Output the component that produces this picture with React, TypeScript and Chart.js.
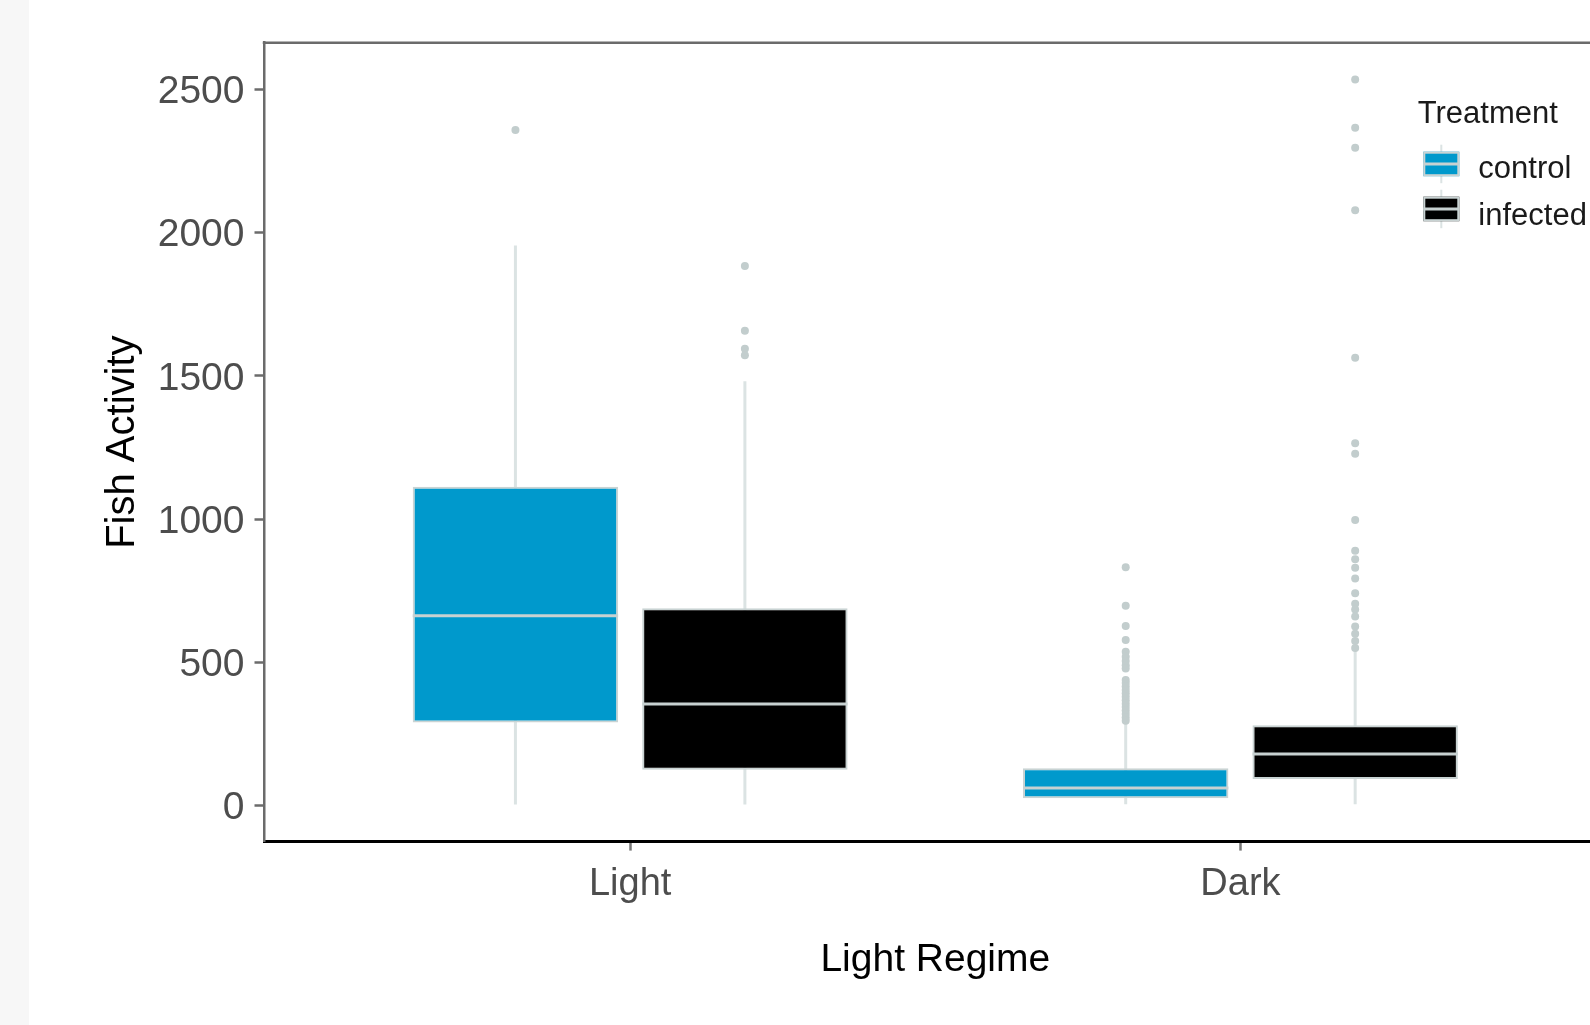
import React, { useEffect, useRef } from 'react';
import { Chart, registerables } from 'chart.js';

Chart.register(...registerables);

// ---------- data ----------
const CATEGORIES = ['Light', 'Dark'];
const SERIES = ['control', 'infected'];
const Y_TICKS = [0, 500, 1000, 1500, 2000, 2500];

const CONTROL_LOW = [4, 5];
const CONTROL_Q1 = [290, 26];
const CONTROL_MEDIAN = [663, 62];
const CONTROL_Q3 = [1113, 131];
const CONTROL_HIGH = [1955, 288];
const CONTROL_OUTLIERS = [
  [2358],
  [832, 698, 627, 578, 537, 520, 505, 490, 479, 439, 428, 416, 404, 392, 380, 368, 356, 344, 332, 320, 308, 296],
];

const INFECTED_LOW = [4, 5];
const INFECTED_Q1 = [125, 93];
const INFECTED_MEDIAN = [355, 180];
const INFECTED_Q3 = [689, 281];
const INFECTED_HIGH = [1481, 542];
const INFECTED_OUTLIERS = [
  [1883, 1657, 1595, 1572],
  [2534, 2366, 2296, 2078, 1563, 1265, 1228, 997, 890, 860, 830, 793, 741, 705, 685, 660, 625, 600, 575, 550],
];

// ---------- layout / style ----------
const DODGE = 0.188;
const BOX_W = 0.3366;
const FONT = "'Liberation Sans', Arial, Helvetica, sans-serif";
const FILLS = ['#0099cc', '#000000'];
const BOX_BORDER = '#c9d3d3';
const WHISKER = '#dbe3e3';
const MEDIAN = '#c7d1d1';
const OUTLIER = '#c2cdcd';
const CANVAS_W = 1640;
const CANVAS_H = 1025;
const AREA = { left: 264, top: 42.7, right: 1606.6, bottom: 841.6 };

const GROUPS = [
  { low: CONTROL_LOW, q1: CONTROL_Q1, med: CONTROL_MEDIAN, q3: CONTROL_Q3, high: CONTROL_HIGH, out: CONTROL_OUTLIERS },
  { low: INFECTED_LOW, q1: INFECTED_Q1, med: INFECTED_MEDIAN, q3: INFECTED_Q3, high: INFECTED_HIGH, out: INFECTED_OUTLIERS },
];

const centerOf = (ci: number, si: number) => ci + 1 + (si === 0 ? -DODGE : DODGE);

const bgPlugin = {
  id: 'bg',
  beforeDraw(chart: any) {
    const { ctx } = chart;
    ctx.save();
    ctx.fillStyle = '#ffffff';
    ctx.fillRect(0, 0, chart.width, chart.height);
    ctx.fillStyle = '#f7f7f7';
    ctx.fillRect(0, 0, 29, chart.height);
    ctx.restore();
  },
  afterDraw(chart: any) {
    const { ctx, chartArea } = chart;
    ctx.save();
    ctx.strokeStyle = '#6b6b6b';
    ctx.lineWidth = 2.5;
    ctx.beginPath();
    ctx.moveTo(chartArea.left - 1.25, chartArea.top);
    ctx.lineTo(chartArea.right, chartArea.top);
    ctx.stroke();
    ctx.restore();
  },
};

const legendPlugin = {
  id: 'treatmentLegend',
  afterDraw(chart: any) {
    const { ctx } = chart;
    ctx.save();
    ctx.font = `31px ${FONT}`;
    ctx.textBaseline = 'alphabetic';
    ctx.textAlign = 'left';
    ctx.fillStyle = '#1a1a1a';
    ctx.fillText('Treatment', 1417.7, 122.7);
    const kx = 1423.3, kw = 36, kh = 24.5;
    const tops = [151.7, 196.7];
    const baselines = [178.3, 224.5];
    SERIES.forEach((name, si) => {
      const top = tops[si];
      ctx.strokeStyle = WHISKER;
      ctx.lineWidth = 2;
      ctx.beginPath();
      ctx.moveTo(kx + kw / 2, top - 7);
      ctx.lineTo(kx + kw / 2, top + kh + 7);
      ctx.stroke();
      ctx.fillStyle = FILLS[si];
      ctx.fillRect(kx, top, kw, kh);
      ctx.strokeStyle = BOX_BORDER;
      ctx.lineWidth = 2;
      ctx.strokeRect(kx + 1, top + 1, kw - 2, kh - 2);
      ctx.strokeStyle = MEDIAN;
      ctx.lineWidth = 3;
      ctx.beginPath();
      ctx.moveTo(kx, top + kh / 2);
      ctx.lineTo(kx + kw, top + kh / 2);
      ctx.stroke();
      ctx.fillStyle = '#1a1a1a';
      ctx.fillText(name, 1478.3, baselines[si]);
    });
    ctx.restore();
  },
};

export default function App() {
  const ref = useRef<HTMLCanvasElement | null>(null);

  useEffect(() => {
    if (!ref.current) return;

    const datasets: any[] = [];

    GROUPS.forEach((g, si) => {
      datasets.push({
        type: 'line',
        label: SERIES[si] + ' whiskers',
        data: CATEGORIES.flatMap((_, ci) => [
          { x: centerOf(ci, si), y: g.low[ci] },
          { x: centerOf(ci, si), y: g.high[ci] },
          { x: centerOf(ci, si), y: null },
        ]),
        borderColor: WHISKER,
        borderWidth: 3,
        pointRadius: 0,
        spanGaps: false,
        fill: false,
        order: 5,
      });
    });

    GROUPS.forEach((g, si) => {
      datasets.push({
        type: 'bar',
        label: SERIES[si],
        data: CATEGORIES.map((_, ci) => ({ x: centerOf(ci, si), y: [g.q1[ci], g.q3[ci]] })),
        backgroundColor: FILLS[si],
        borderColor: BOX_BORDER,
        borderWidth: 2,
        borderSkipped: false,
        grouped: false,
        categoryPercentage: 1,
        barPercentage: BOX_W / (2 * DODGE),
        order: 4,
      });
    });

    GROUPS.forEach((g, si) => {
      datasets.push({
        type: 'line',
        label: SERIES[si] + ' median',
        data: CATEGORIES.flatMap((_, ci) => [
          { x: centerOf(ci, si) - BOX_W / 2, y: g.med[ci] },
          { x: centerOf(ci, si) + BOX_W / 2, y: g.med[ci] },
          { x: centerOf(ci, si), y: null },
        ]),
        borderColor: MEDIAN,
        borderWidth: 3,
        pointRadius: 0,
        spanGaps: false,
        fill: false,
        order: 2,
      });
    });

    GROUPS.forEach((g, si) => {
      datasets.push({
        type: 'scatter',
        label: SERIES[si] + ' outliers',
        data: CATEGORIES.flatMap((_, ci) => g.out[ci].map((v) => ({ x: centerOf(ci, si), y: v }))),
        pointRadius: 4,
        pointBackgroundColor: OUTLIER,
        pointBorderWidth: 0,
        showLine: false,
        order: 1,
      });
    });

    const chart = new Chart(ref.current, {
      type: 'bar',
      data: { datasets },
      plugins: [bgPlugin, legendPlugin],
      options: {
        responsive: false,
        animation: false,
        devicePixelRatio: 1,
        layout: {
          padding: { top: AREA.top, left: 0, right: CANVAS_W - AREA.right, bottom: 0 },
        },
        plugins: {
          legend: { display: false },
          tooltip: { enabled: false },
        },
        scales: {
          x: {
            type: 'linear',
            offset: false,
            min: 0.4,
            max: 2.6,
            afterBuildTicks: (s: any) => {
              s.ticks = CATEGORIES.map((_, i) => ({ value: i + 1 }));
            },
            afterFit: (s: any) => {
              s.height = CANVAS_H - AREA.bottom;
            },
            ticks: {
              callback: (v: any) => CATEGORIES[Number(v) - 1] ?? '',
              font: { family: FONT, size: 38 },
              color: '#4d4d4d',
              padding: 11,
              autoSkip: false,
              maxRotation: 0,
            },
            grid: {
              display: true,
              offset: false,
              drawOnChartArea: false,
              drawTicks: true,
              tickLength: 9,
              tickColor: '#777777',
              tickWidth: 2.5,
            },
            border: { display: true, color: '#000000', width: 3 },
            title: {
              display: true,
              text: 'Light Regime',
              color: '#000000',
              font: { family: FONT, size: 39 },
              padding: { top: 0, bottom: 41.6 },
            },
          },
          y: {
            type: 'linear',
            min: -125.3,
            max: 2662.6,
            afterBuildTicks: (s: any) => {
              s.ticks = Y_TICKS.map((v) => ({ value: v }));
            },
            afterFit: (s: any) => {
              s.width = AREA.left;
            },
            ticks: {
              callback: (v: any) => String(v),
              font: { family: FONT, size: 39 },
              color: '#4d4d4d',
              padding: 10,
              labelOffset: 3,
            },
            grid: {
              display: true,
              drawOnChartArea: false,
              drawTicks: true,
              tickLength: 9.5,
              tickColor: '#6b6b6b',
              tickWidth: 2.5,
            },
            border: { display: true, color: '#6b6b6b', width: 2.5 },
            title: {
              display: true,
              text: 'Fish Activity',
              color: '#000000',
              font: { family: FONT, size: 40 },
              padding: { top: 98.5, bottom: 0 },
            },
          },
        },
      } as any,
    });

    return () => chart.destroy();
  }, []);

  return (
    <div style={{ position: 'fixed', left: 0, top: 0, width: '100vw', height: '100vh', overflow: 'hidden', background: '#ffffff' }}>
      <canvas ref={ref} width={CANVAS_W} height={CANVAS_H} style={{ display: 'block', width: CANVAS_W, height: CANVAS_H }} />
    </div>
  );
}
